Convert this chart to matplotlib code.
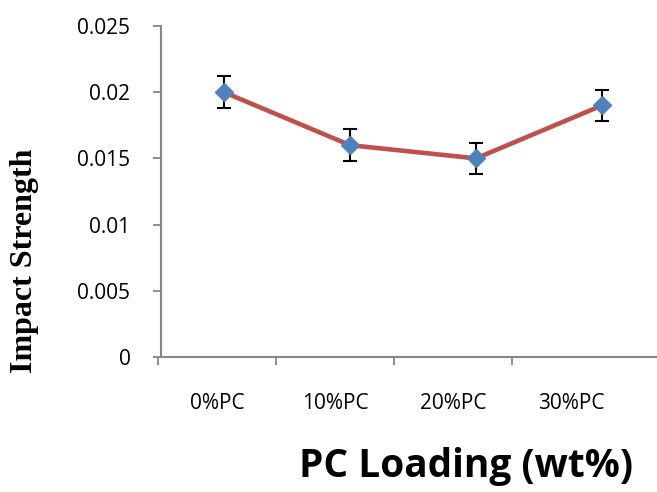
import numpy as np
import matplotlib.pyplot as plt
from matplotlib.ticker import FixedLocator, NullFormatter

categories = ['0%PC', '10%PC', '20%PC', '30%PC']
impact = [0.020, 0.016, 0.015, 0.019]
err = [0.0012, 0.0012, 0.0012, 0.0012]
yticks = [0, 0.005, 0.01, 0.015, 0.02, 0.025]
ytick_labels = ['0', '0.005', '0.01', '0.015', '0.02', '0.025']

W, H = 657, 492
fig = plt.figure(figsize=(W / 100, H / 100), dpi=100)
gray = '#868686'

# data axes
ax = fig.add_axes([161 / W, 1 - 357 / H, 504 / W, 331 / H])
x = np.arange(len(categories))
ax.errorbar(x, impact, yerr=err, fmt='none', ecolor='black', elinewidth=1.5,
            capsize=5, capthick=1.5, zorder=2)
ax.plot(x, impact, color='#C0504D', lw=3.3, zorder=3)
ax.plot(x, impact, 'D', color='#4F81BD', markersize=9.5, zorder=4)
ax.set_xlim(-0.5, 3.5)
ax.set_ylim(0, 0.025)
ax.set_yticks(yticks)
ax.set_yticklabels(ytick_labels, fontname='Open Sans', fontsize=15)
ax.tick_params(axis='y', direction='out', length=6, width=1.3, color=gray, pad=16)
ax.set_xticks([])
for s in ['top', 'right']:
    ax.spines[s].set_visible(False)
for s in ['left', 'bottom']:
    ax.spines[s].set_color(gray)
    ax.spines[s].set_linewidth(1.5)
ax.set_ylabel('Impact Strength', fontname='Liberation Serif', fontweight='bold',
              fontsize=23, va='center')
ax.yaxis.set_label_coords(-0.27, 0.29)

# category axis
axc = fig.add_axes([158 / W, 1 - 357 / H, 472 / W, 331 / H], frameon=False)
axc.set_xlim(-0.5, 3.5)
axc.set_yticks([])
axc.set_xticks(x)
axc.set_xticklabels(categories, fontname='Open Sans', fontsize=15)
axc.xaxis.set_minor_locator(FixedLocator([-0.5, 0.5, 1.5, 2.5]))
axc.xaxis.set_minor_formatter(NullFormatter())
axc.tick_params(axis='x', which='major', length=0, pad=26)
axc.tick_params(axis='x', which='minor', direction='out', length=6, width=1.3, color=gray)
axc.patch.set_alpha(0)

fig.text(466 / W, 1 - 467 / H, 'PC Loading (wt%)', fontname='Open Sans',
         fontweight='bold', fontsize=28, ha='center', va='center')

fig.savefig('out.png', dpi=100)
